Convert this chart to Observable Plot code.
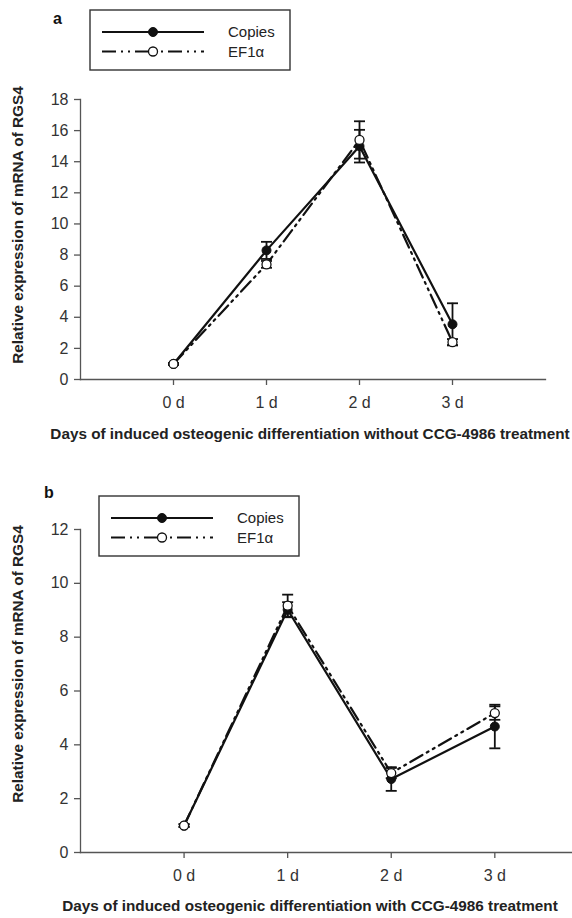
<!DOCTYPE html>
<html>
<head>
<meta charset="utf-8">
<script src="https://cdn.jsdelivr.net/npm/d3@7"></script>
<script src="https://cdn.jsdelivr.net/npm/@observablehq/plot@0.6"></script>
<style>
  html, body { margin: 0; padding: 0; background: #fff; }
  #chart { width: 572px; }
  #chart svg { display: block; }
</style>
</head>
<body>
<div id="chart"></div>
<script>
// ---- Data ----
const dayLabels = ["0 d", "1 d", "2 d", "3 d"];
const dayIndex = [0, 1, 2, 3];
const seriesNames = ["Copies", "EF1α"];

// Panel a (without CCG-4986)
const aCopies = [1.0, 8.3, 15.0, 3.55];
const aCopiesErr = [0.05, 0.55, 1.05, 1.35];
const aEF = [1.0, 7.4, 15.4, 2.4];
const aEFErr = [0.05, 0.22, 1.2, 0.2];
const aYTicks = [0, 2, 4, 6, 8, 10, 12, 14, 16, 18];

// Panel b (with CCG-4986)
const bCopies = [1.0, 9.02, 2.73, 4.68];
const bCopiesErr = [0.05, 0.28, 0.44, 0.81];
const bEF = [1.0, 9.17, 2.95, 5.18];
const bEFErr = [0.05, 0.41, 0.19, 0.25];
const bYTicks = [0, 2, 4, 6, 8, 10, 12];

const yTitle = "Relative expression of mRNA of RGS4";
const aXTitle = "Days of induced osteogenic differentiation without CCG-4986 treatment";
const bXTitle = "Days of induced osteogenic differentiation with CCG-4986 treatment";

// ---- Drawing ----
const FONT = "'Liberation Sans', Arial, Helvetica, sans-serif";
const INK = "#111";
const AXIS = "#555";
const DASH = "14,5,2,5,2,5";

const capSymbol = {
  draw(context) { context.moveTo(-5.5, 0); context.lineTo(5.5, 0); }
};

function rowsOf(values, errs) {
  return dayIndex.map((d, i) => ({day: d, value: values[i], err: errs[i]}));
}

function panel(o) {
  const copies = rowsOf(o.copies, o.copiesErr);
  const ef = rowsOf(o.ef, o.efErr);
  const all = copies.concat(ef);
  const svg = Plot.plot({
    width: 572,
    height: o.height,
    marginLeft: 80,
    marginRight: o.marginRight,
    marginTop: o.marginTop,
    marginBottom: o.marginBottom,
    x: {domain: [-1, o.xMax]},
    y: {domain: [0, o.yMax]},
    style: {fontFamily: FONT, fontSize: "16px", color: "#333", background: "#fff", overflow: "visible"},
    marks: [
      Plot.axisX({ticks: dayIndex, tickFormat: i => dayLabels[i], tickSize: 6, tickPadding: 11,
                  label: null, stroke: AXIS, strokeWidth: 1.3, fill: "#333", fontSize: 16}),
      Plot.axisY({ticks: o.yTicks, tickSize: 6, tickPadding: 6, label: null,
                  stroke: AXIS, strokeWidth: 1.3, fill: "#333", fontSize: 16}),
      Plot.frame({anchor: "left", stroke: AXIS, strokeWidth: 1.3}),
      Plot.frame({anchor: "bottom", stroke: AXIS, strokeWidth: 1.3}),
      Plot.line(copies, {x: "day", y: "value", stroke: INK, strokeWidth: 2.2}),
      Plot.line(ef, {x: "day", y: "value", stroke: INK, strokeWidth: 2.2, strokeDasharray: DASH}),
      Plot.ruleX(all, {x: "day", y1: d => d.value - d.err, y2: d => d.value + d.err, stroke: INK, strokeWidth: 1.8}),
      Plot.dot(all, {x: "day", y: d => d.value + d.err, symbol: capSymbol, fill: "none", stroke: INK, strokeWidth: 1.8}),
      Plot.dot(all, {x: "day", y: d => d.value - d.err, symbol: capSymbol, fill: "none", stroke: INK, strokeWidth: 1.8}),
      Plot.dot(copies, {x: "day", y: "value", r: 4.5, fill: INK, stroke: INK, strokeWidth: 1}),
      Plot.dot(ef, {x: "day", y: "value", r: 4.5, fill: "#fff", stroke: INK, strokeWidth: 1.3})
    ]
  });

  const s = d3.select(svg);
  // panel letter
  s.append("text").attr("x", o.letterX).attr("y", o.letterY).attr("text-anchor", "start")
    .attr("font-family", FONT).attr("font-weight", "bold").attr("font-size", 16)
    .attr("fill", "#111").text(o.letter);
  // legend
  const L = o.legend;
  const g = s.append("g");
  g.append("rect").attr("x", L.x).attr("y", L.y).attr("width", 200).attr("height", 60)
    .attr("fill", "#fff").attr("stroke", "#333").attr("stroke-width", 1.4);
  seriesNames.forEach((name, i) => {
    const yy = L.y + 22 + i * 19.5;
    g.append("line").attr("x1", L.x + 12).attr("x2", L.x + 114).attr("y1", yy).attr("y2", yy)
      .attr("stroke", INK).attr("stroke-width", 2.2)
      .attr("stroke-dasharray", i === 0 ? null : DASH);
    g.append("circle").attr("cx", L.x + 63).attr("cy", yy).attr("r", 4.5)
      .attr("fill", i === 0 ? INK : "#fff").attr("stroke", INK).attr("stroke-width", i === 0 ? 1 : 1.3);
    g.append("text").attr("x", L.x + 138).attr("y", yy).attr("dy", "0.35em").attr("text-anchor", "start")
      .attr("font-family", FONT).attr("font-size", 15).attr("fill", "#222").text(name);
  });
  // axis titles
  s.append("text").attr("transform", `translate(${o.yTitleX},${o.yTitleY}) rotate(-90)`)
    .attr("text-anchor", "middle").attr("dy", "0.35em")
    .attr("font-family", FONT).attr("font-weight", "bold").attr("font-size", 15.3)
    .attr("fill", "#222").text(yTitle);
  s.append("text").attr("x", o.xTitleX).attr("y", o.xTitleY)
    .attr("text-anchor", "middle").attr("dy", "0.35em")
    .attr("font-family", FONT).attr("font-weight", "bold").attr("font-size", 15.3)
    .attr("fill", "#222").text(o.xTitle);
  return svg;
}

const chart = document.getElementById("chart");
chart.appendChild(panel({
  copies: aCopies, copiesErr: aCopiesErr, ef: aEF, efErr: aEFErr,
  yMax: 18, yTicks: aYTicks, xMax: 4,
  height: 455, marginTop: 99, marginBottom: 76, marginRight: 27,
  letter: "a", letterX: 53, letterY: 24,
  legend: {x: 90, y: 10},
  yTitleX: 18, yTitleY: 225,
  xTitle: aXTitle, xTitleX: 310, xTitleY: 434
}));
chart.appendChild(panel({
  copies: bCopies, copiesErr: bCopiesErr, ef: bEF, efErr: bEFErr,
  yMax: 12, yTicks: bYTicks, xMax: 3.75,
  height: 463, marginTop: 74, marginBottom: 66, marginRight: 0,
  letter: "b", letterX: 44, letterY: 43,
  legend: {x: 99, y: 41},
  yTitleX: 18, yTitleY: 209,
  xTitle: bXTitle, xTitleX: 310, xTitleY: 451
}));
</script>
</body>
</html>
